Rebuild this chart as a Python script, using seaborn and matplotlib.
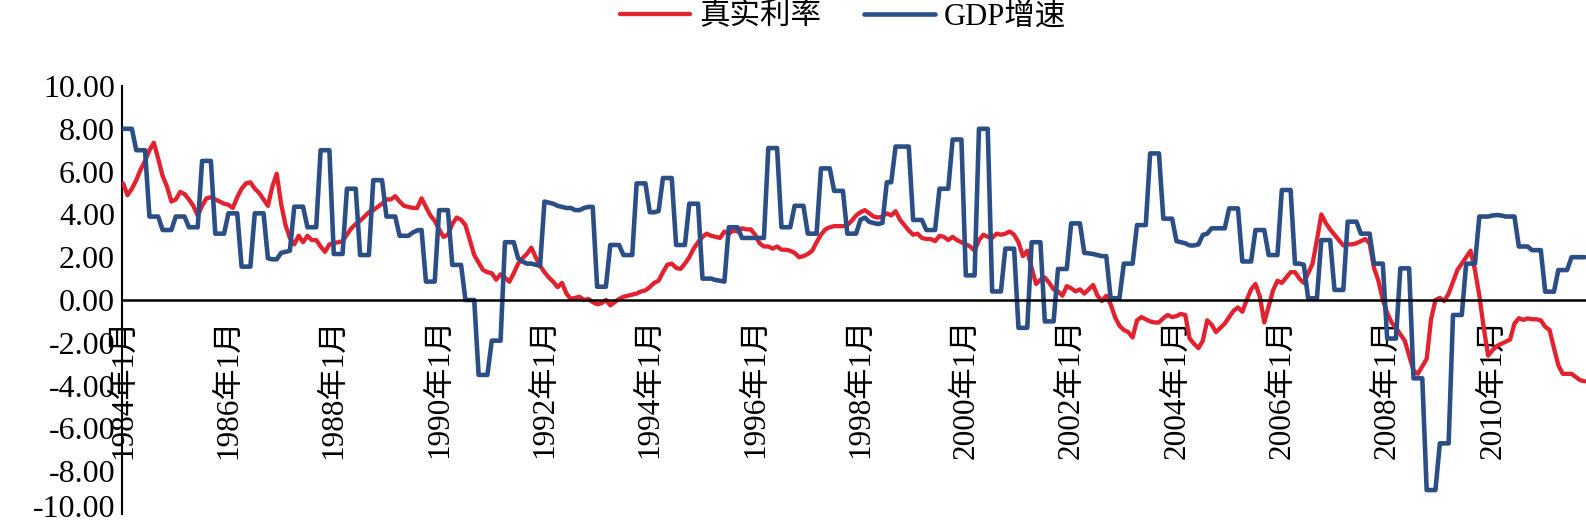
import numpy as np
import pandas as pd
import matplotlib
matplotlib.use("Agg")
import matplotlib.pyplot as plt
import matplotlib.transforms as mtransforms
import seaborn as sns
from matplotlib.ticker import FuncFormatter

# ---------------- data (monthly, 1984-01 .. 2011-10) ----------------
series_names = ["真实利率", "GDP增速"]

real_rate = [
    5.45, 4.9, 5.2, 5.6, 6.1, 6.5, 7.0, 7.35, 6.6, 5.8, 5.3, 4.6,          # 1984
    4.7, 5.05, 4.95, 4.7, 4.4, 3.95, 4.4, 4.75, 4.8, 4.7, 4.6, 4.5,        # 1985
    4.45, 4.3, 4.8, 5.2, 5.45, 5.5, 5.2, 5.0, 4.7, 4.4, 5.3, 5.9,          # 1986
    4.5, 3.5, 2.9, 2.6, 3.0, 2.7, 3.0, 2.8, 2.8, 2.5, 2.25, 2.6,           # 1987
    2.65, 2.7, 2.75, 3.05, 3.35, 3.55, 3.7, 3.9, 4.1, 4.2, 4.35, 4.5,      # 1988
    4.7, 4.7, 4.85, 4.6, 4.4, 4.35, 4.3, 4.3, 4.75, 4.35, 3.95, 3.7,       # 1989
    3.3, 2.95, 3.05, 3.55, 3.85, 3.75, 3.5, 2.8, 2.1, 1.75, 1.4, 1.3,      # 1990
    1.25, 0.95, 1.2, 1.05, 0.85, 1.25, 1.7, 1.95, 2.15, 2.45, 2.0, 1.6,    # 1991
    1.3, 1.05, 0.85, 0.6, 0.8, 0.3, 0.05, 0.1, 0.15, 0.0, 0.05, -0.1,      # 1992
    -0.2, -0.15, 0.0, -0.25, -0.1, 0.05, 0.15, 0.2, 0.25, 0.3, 0.4, 0.45,  # 1993
    0.6, 0.8, 0.9, 1.3, 1.65, 1.7, 1.5, 1.45, 1.7, 2.0, 2.4, 2.7,          # 1994
    2.95, 3.1, 3.0, 2.95, 2.9, 3.2, 3.1, 3.25, 3.2, 3.35, 3.3, 3.3,        # 1995
    3.05, 2.65, 2.5, 2.5, 2.4, 2.5, 2.35, 2.35, 2.3, 2.2, 2.0, 2.05,       # 1996
    2.15, 2.3, 2.7, 3.05, 3.3, 3.4, 3.45, 3.45, 3.45, 3.5, 3.7, 3.95,      # 1997
    4.1, 4.2, 4.05, 3.9, 3.85, 3.9, 4.05, 3.95, 4.15, 3.75, 3.5, 3.25,     # 1998
    3.05, 3.1, 2.9, 2.85, 2.85, 2.75, 3.0, 2.95, 2.8, 2.95, 2.8, 2.7,      # 1999
    2.6, 2.5, 2.3, 2.8, 3.05, 2.95, 2.9, 3.1, 3.05, 3.1, 3.2, 3.05,        # 2000
    2.7, 2.05, 2.3, 1.5, 0.75, 0.95, 1.05, 0.8, 0.5, 0.4, 0.2, 0.65,       # 2001
    0.55, 0.4, 0.5, 0.3, 0.5, 0.7, 0.2, -0.05, 0.2, -0.2, -0.8, -1.2,      # 2002
    -1.4, -1.5, -1.75, -0.95, -0.8, -0.9, -1.0, -1.05, -1.05, -0.85, -0.7, -0.8,  # 2003
    -0.75, -0.65, -0.7, -1.8, -2.05, -2.25, -1.9, -0.95, -1.15, -1.5, -1.3, -1.1,  # 2004
    -0.8, -0.5, -0.35, -0.55, 0.0, 0.5, 0.75, 0.15, -1.05, -0.3, 0.45, 0.9,      # 2005
    0.8, 1.05, 1.3, 1.3, 1.0, 0.8, 1.25, 1.7, 2.8, 4.0, 3.6, 3.3,          # 2006
    3.05, 2.8, 2.55, 2.6, 2.6, 2.65, 2.75, 2.85, 2.65, 1.5, 0.9, 0.0,      # 2007
    -0.6, -1.05, -1.3, -1.6, -1.9, -2.6, -3.3, -3.45, -3.1, -2.75, -0.9, 0.0,    # 2008
    0.1, -0.05, 0.3, 0.85, 1.4, 1.7, 2.0, 2.3, 1.4, 0.2, -1.3, -2.6,       # 2009
    -2.35, -2.15, -2.05, -1.95, -1.85, -1.1, -0.85, -0.93, -0.86, -0.9, -0.9, -0.95,  # 2010
    -1.25, -1.4, -2.25, -3.05, -3.45, -3.45, -3.45, -3.6, -3.75, -3.8,     # 2011
]

gdp_growth = [
    8.0, 8.0, 8.0, 7.0, 7.0, 7.0, 3.9, 3.9, 3.9, 3.27, 3.27, 3.27,         # 1984
    3.9, 3.9, 3.9, 3.4, 3.4, 3.4, 6.5, 6.5, 6.5, 3.1, 3.1, 3.1,            # 1985
    4.05, 4.05, 4.05, 1.56, 1.56, 1.56, 4.05, 4.05, 4.05, 1.95, 1.9, 1.9,  # 1986
    2.2, 2.25, 2.3, 4.36, 4.36, 4.36, 3.4, 3.4, 3.4, 7.0, 7.0, 7.0,        # 1987
    2.15, 2.15, 2.15, 5.2, 5.2, 5.2, 2.1, 2.1, 2.1, 5.6, 5.6, 5.6,         # 1988
    3.9, 3.9, 3.9, 3.0, 3.0, 3.0, 3.15, 3.25, 3.27, 0.86, 0.86, 0.86,      # 1989
    4.2, 4.2, 4.2, 1.64, 1.64, 1.64, 0.0, 0.0, 0.0, -3.5, -3.5, -3.5,      # 1990
    -1.9, -1.9, -1.9, 2.7, 2.7, 2.7, 1.95, 1.8, 1.7, 1.7, 1.65, 1.6,       # 1991
    4.6, 4.55, 4.5, 4.4, 4.35, 4.3, 4.3, 4.2, 4.2, 4.3, 4.35, 4.35,        # 1992
    0.62, 0.62, 0.62, 2.57, 2.57, 2.57, 2.1, 2.1, 2.1, 5.45, 5.45, 5.45,   # 1993
    4.1, 4.1, 4.15, 5.7, 5.7, 5.7, 2.57, 2.57, 2.57, 4.5, 4.5, 4.5,        # 1994
    1.0, 1.0, 1.0, 0.93, 0.9, 0.86, 3.4, 3.4, 3.4, 2.9, 2.9, 2.9,          # 1995
    2.9, 2.9, 2.9, 7.1, 7.1, 7.1, 3.4, 3.4, 3.4, 4.4, 4.4, 4.4,            # 1996
    3.1, 3.1, 3.1, 6.15, 6.15, 6.15, 5.1, 5.1, 5.1, 3.1, 3.1, 3.1,         # 1997
    3.75, 3.85, 3.65, 3.6, 3.55, 3.6, 5.5, 5.5, 7.17, 7.17, 7.17, 7.17,    # 1998
    3.74, 3.74, 3.74, 3.27, 3.27, 3.27, 5.2, 5.2, 5.2, 7.5, 7.5, 7.5,      # 1999
    1.15, 1.15, 1.15, 8.0, 8.0, 8.0, 0.4, 0.4, 0.4, 2.4, 2.4, 2.4,         # 2000
    -1.3, -1.3, -1.3, 2.7, 2.7, 2.7, -1.0, -1.0, -1.0, 1.45, 1.45, 1.45,   # 2001
    3.58, 3.58, 3.58, 2.2, 2.18, 2.15, 2.1, 2.05, 2.05, 0.08, 0.08, 0.08,  # 2002
    1.7, 1.7, 1.7, 3.5, 3.5, 3.5, 6.85, 6.85, 6.85, 3.8, 3.8, 3.8,         # 2003
    2.75, 2.7, 2.65, 2.55, 2.55, 2.6, 3.04, 3.1, 3.35, 3.35, 3.35, 3.35,   # 2004
    4.28, 4.28, 4.28, 1.8, 1.8, 1.8, 3.27, 3.27, 3.27, 2.1, 2.1, 2.1,      # 2005
    5.14, 5.14, 5.14, 1.7, 1.7, 1.65, 0.08, 0.08, 0.08, 2.8, 2.8, 2.8,     # 2006
    0.47, 0.47, 0.47, 3.66, 3.66, 3.66, 3.1, 3.1, 3.1, 1.7, 1.7, 1.7,      # 2007
    -1.8, -1.8, -1.8, 1.48, 1.48, 1.48, -3.66, -3.66, -3.66, -8.88, -8.88, -8.88,  # 2008
    -6.7, -6.7, -6.7, -0.7, -0.7, -0.7, 1.7, 1.7, 1.7, 3.9, 3.9, 3.9,      # 2009
    3.95, 3.97, 3.95, 3.9, 3.9, 3.9, 2.5, 2.5, 2.5, 2.33, 2.33, 2.33,      # 2010
    0.39, 0.39, 0.39, 1.4, 1.4, 1.4, 2.0, 2.0, 2.0, 2.0,                   # 2011
]

tick_years = list(range(1984, 2012, 2))
tick_labels = [f"{y}年1月" for y in tick_years]

assert len(real_rate) == len(gdp_growth) == 334

# ---------------- style ----------------
RED = "#E3222F"
BLUE = "#2C4E86"

sns.set_theme(style="white")
plt.rcParams["font.family"] = ["Liberation Serif", "Noto Sans CJK SC"]
plt.rcParams["axes.unicode_minus"] = False
plt.rcParams["text.color"] = "black"
plt.rcParams["xtick.color"] = "black"
plt.rcParams["ytick.color"] = "black"

W, H = 1586, 524
fig = plt.figure(figsize=(W / 100, H / 100), dpi=100)
fig.patch.set_facecolor("white")
left_px, top_px, bottom_px = 122, 86, 514
ax = fig.add_axes([left_px / W, 1 - bottom_px / H, 1 - left_px / W, (bottom_px - top_px) / H])
ax.set_facecolor("white")

n = len(real_rate)
month_idx = np.arange(n)
df = pd.DataFrame({
    "月": np.concatenate([month_idx, month_idx]),
    "值": np.concatenate([real_rate, gdp_growth]),
    "序列": [series_names[0]] * n + [series_names[1]] * n,
})

sns.lineplot(data=df[df["序列"] == series_names[0]], x="月", y="值", color=RED,
             linewidth=3.1, ax=ax, legend=False, zorder=3)
sns.lineplot(data=df[df["序列"] == series_names[1]], x="月", y="值", color=BLUE,
             linewidth=3.3, ax=ax, legend=False, zorder=4)

ax.set_xlim(-0.25, 333.3)
ax.set_ylim(-10, 10)
ax.set_xlabel("")
ax.set_ylabel("")

for s in ["top", "right"]:
    ax.spines[s].set_visible(False)
ax.spines["bottom"].set_position(("data", 0))
ax.spines["bottom"].set_linewidth(1.8)
ax.spines["bottom"].set_color("black")
ax.spines["left"].set_linewidth(1.5)
ax.spines["left"].set_color("black")
ax.spines["bottom"].set_zorder(5)

ax.set_yticks(np.arange(-10, 10.01, 2))
ax.yaxis.set_major_formatter(FuncFormatter(lambda v, p: f"{v:.2f}"))
ax.tick_params(axis="y", direction="in", length=6, width=1.5, labelsize=23, pad=5)

ax.set_xticks([(y - 1984) * 12 for y in tick_years])
ax.set_xticklabels(tick_labels, rotation=90, va="top", ha="center")
ax.tick_params(axis="x", direction="in", length=7, width=1.5, labelsize=22.5, pad=13)

# lift the lowest y label a few pixels so it stays inside the canvas
fig.canvas.draw()
lift = mtransforms.ScaledTranslation(0, 8 / 100, fig.dpi_scale_trans)
for tick in ax.yaxis.get_major_ticks():
    if abs(tick.get_loc() + 10) < 1e-6:
        tick.label1.set_transform(tick.label1.get_transform() + lift)

handles = [ax.lines[0], ax.lines[1]]
fig.legend(handles, series_names, loc="center", bbox_to_anchor=(843 / W, 1 - 17 / H),
           ncol=2, frameon=False, fontsize=22, handlelength=2.3, handletextpad=0.3,
           columnspacing=1.4, borderpad=0.0)

fig.savefig("out.png", dpi=100, facecolor="white")
